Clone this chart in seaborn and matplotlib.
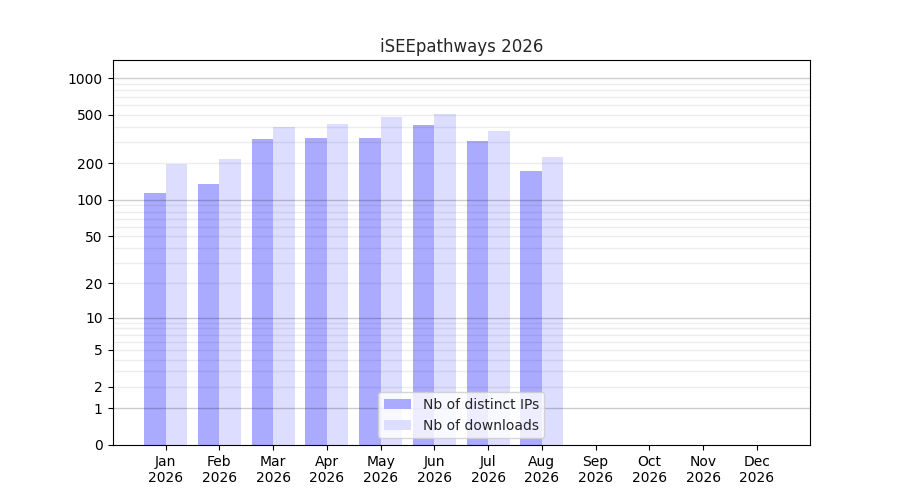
import numpy as np
import pandas as pd
import matplotlib
matplotlib.use('Agg')
import matplotlib.pyplot as plt
import seaborn as sns

'''Data'''
months = ['Jan', 'Feb', 'Mar', 'Apr', 'May', 'Jun',
          'Jul', 'Aug', 'Sep', 'Oct', 'Nov', 'Dec']
year = 2026
distinct_ips = [115, 136, 318, 325, 324, 415, 306, 174, 0, 0, 0, 0]
downloads = [199, 218, 399, 423, 482, 511, 370, 227, 0, 0, 0, 0]

ytick_values = [0, 1, 2, 5, 10, 20, 50, 100, 200, 500, 1000]
major_grid = [1, 10, 100, 1000]
minor_grid = [2, 3, 4, 5, 6, 7, 8, 9,
              20, 30, 40, 50, 60, 70, 80, 90,
              200, 300, 400, 500, 600, 700, 800, 900]

labels = [m + '\n' + str(year) for m in months]
df = pd.DataFrame({
    'month': labels * 2,
    'value': distinct_ips + downloads,
    'kind': ['Nb of distinct IPs'] * 12 + ['Nb of downloads'] * 12,
})

'''Plot'''
sns.set_style('ticks')
plt.rcParams['font.family'] = ['DejaVu Sans']

fig, ax = plt.subplots(figsize = (9, 5), dpi = 100)

ax.set_yscale('function', functions = (lambda x: np.log10(np.clip(x, 0, None) + 1),
                                      lambda y: 10 ** y - 1))

sns.barplot(data = df,
    x = 'month',
    y = 'value',
    hue = 'kind',
    palette = ['#aaaaff', '#ddddff'],
    width = 0.8,
    saturation = 1,
    linewidth = 0,
    ax = ax,
    zorder = 1
    )

for v in major_grid:
    ax.axhline(v, color = 'k', alpha = 0.2, lw = 1, zorder = 2)
for v in minor_grid:
    ax.axhline(v, color = 'k', alpha = 0.07, lw = 1, zorder = 2)

ax.set_ylim(0, 1405)
ax.set_xlim(-0.987, 11.987)
ax.set_yticks(ytick_values)
ax.set_yticklabels([str(v) for v in ytick_values])
ax.minorticks_off()
ax.set_xlabel('')
ax.set_ylabel('')
ax.set_title('iSEEpathways 2026')
for s in ax.spines.values():
    s.set_visible(True)
    s.set_color('black')
ax.tick_params(colors = 'black', labelsize = 10)

ax.legend(loc = 'lower center', framealpha = 0.8, fontsize = 10)

plt.subplots_adjust(left = 0.125, right = 0.9, top = 0.88, bottom = 0.11)
plt.savefig('out.png', dpi = 100)
